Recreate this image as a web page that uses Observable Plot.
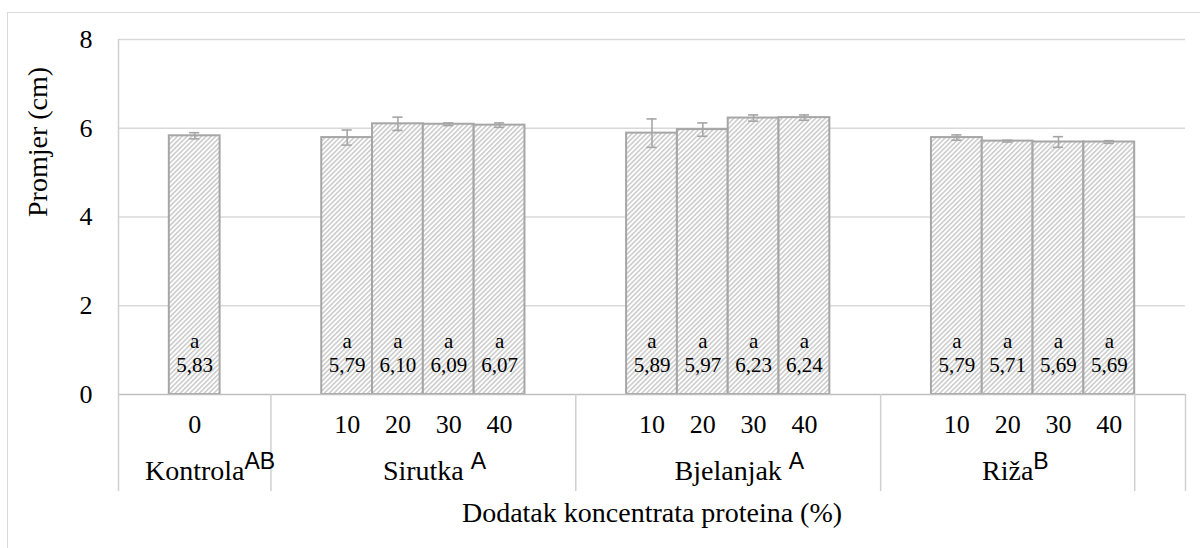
<!DOCTYPE html>
<html><head><meta charset="utf-8">
<script src="https://cdn.jsdelivr.net/npm/d3@7"></script>
<script src="https://cdn.jsdelivr.net/npm/@observablehq/plot@0.6"></script>
<style>
html,body{margin:0;padding:0;background:#fff;overflow:hidden;}
#wrap{position:relative;width:1200px;height:548px;}
#chart{position:absolute;left:0;top:0;}
#frame{position:absolute;left:7px;top:12px;width:1300px;height:700px;border:1.5px solid #d9d9d9;box-sizing:border-box;pointer-events:none;z-index:2;}
</style></head><body>
<div id="wrap"><div id="chart"></div><div id="frame"></div></div>
<script>
// ---- data ----
const groupNames = ["Kontrola", "Sirutka", "Bjelanjak", "Riža"];
const groupLetters = ["AB", "A", "A", "B"];
const groupLetterSpaced = [false, true, true, false];
const doseLabels = [["0"], ["10", "20", "30", "40"], ["10", "20", "30", "40"], ["10", "20", "30", "40"]];
const means = [[5.83], [5.79, 6.10, 6.09, 6.07], [5.89, 5.97, 6.23, 6.24], [5.79, 5.71, 5.69, 5.69]];
const sds = [[0.07], [0.17, 0.15, 0.03, 0.05], [0.32, 0.15, 0.07, 0.06], [0.06, 0.02, 0.12, 0.03]];
const sigLetters = [["a"], ["a", "a", "a", "a"], ["a", "a", "a", "a"], ["a", "a", "a", "a"]];
const valueLabels = [["5,83"], ["5,79", "6,10", "6,09", "6,07"], ["5,89", "5,97", "6,23", "6,24"], ["5,79", "5,71", "5,69", "5,69"]];
const yTicks = [0, 2, 4, 6, 8];
const yTitle = "Promjer (cm)";
const xTitle = "Dodatak koncentrata proteina (%)";

// Excel category layout (blank category slots around each group)
const padBefore = [1, 1, 1, 1];
const padAfter = [1, 1, 1, 0];
const trailingEmptySlots = 1;

// ---- build tables ----
const rows = [];
const groups = [];
let slot = 0;
groupNames.forEach((name, g) => {
  const start = slot;
  slot += padBefore[g];
  doseLabels[g].forEach((dose, i) => {
    rows.push({dose, mean: means[g][i], sd: sds[g][i], letter: sigLetters[g][i], label: valueLabels[g][i],
               x1: slot, x2: slot + 1, xc: slot + 0.5});
    slot += 1;
  });
  slot += padAfter[g];
  groups.push({name, letter: groupLetters[g], spaced: groupLetterSpaced[g], start, end: slot, center: (start + slot) / 2});
});
const totalSlots = slot + trailingEmptySlots;
const boundaries = [...groups.map(g => g.end), totalSlots];

const serif = "'Liberation Serif', 'Times New Roman', serif";
const sans = "'Liberation Sans', Arial, sans-serif";
const groupFont = 28;
const ctx = document.createElement("canvas").getContext("2d");
ctx.font = `${groupFont}px 'Liberation Serif'`;
groups.forEach(g => { g.half = ctx.measureText(g.name).width / 2 + (g.spaced ? ctx.measureText(" ").width : 0); });

const W = 1200, H = 548, mL = 118, mR = 15, mT = 39, mB = 154;
const innerH = H - mT - mB;
const gray = "#a6a6a6";

const plot = Plot.plot({
  width: W, height: H,
  marginLeft: mL, marginRight: mR, marginTop: mT, marginBottom: mB,
  style: `font-family: ${serif}; font-size: 26px; color: #000; background: transparent;`,
  x: {type: "linear", domain: [0, totalSlots], axis: null},
  y: {domain: [0, 8]},
  marks: [
    Plot.ruleY(yTicks.filter(d => d > 0), {stroke: "#d9d9d9", strokeWidth: 1.3}),
    Plot.rect(rows, {x1: "x1", x2: "x2", y1: 0, y2: "mean", fill: "url(#hatch)", stroke: gray, strokeWidth: 2}),
    Plot.ruleX(rows, {x: "xc", y1: d => d.mean - d.sd, y2: d => d.mean + d.sd, stroke: gray, strokeWidth: 1.6}),
    Plot.ruleY(rows, {y: d => d.mean + d.sd, x1: d => d.xc - 0.1, x2: d => d.xc + 0.1, stroke: gray, strokeWidth: 1.6}),
    Plot.ruleY(rows, {y: d => d.mean - d.sd, x1: d => d.xc - 0.1, x2: d => d.xc + 0.1, stroke: gray, strokeWidth: 1.6}),
    Plot.ruleY([0], {stroke: "#bfbfbf", strokeWidth: 1.5}),
    Plot.ruleX([0], {stroke: "#d0d0d0", strokeWidth: 1.5, insetBottom: -97}),
    Plot.ruleX(boundaries, {stroke: "#d0d0d0", strokeWidth: 1.5, insetTop: innerH, insetBottom: -97}),
    Plot.axisY({ticks: yTicks, tickSize: 0, tickPadding: 26, label: null, fontSize: 26, fontFamily: serif, tickFormat: d => String(d)}),
    Plot.text(rows, {x: "xc", text: "letter", frameAnchor: "bottom", dy: -47, fontSize: 21, fontFamily: serif}),
    Plot.text(rows, {x: "xc", text: "label", frameAnchor: "bottom", dy: -23, fontSize: 21, fontFamily: serif}),
    Plot.text(rows, {x: "xc", text: "dose", frameAnchor: "bottom", dy: 38, fontSize: 26, fontFamily: serif}),
    Plot.text(groups, {x: "center", text: "name", frameAnchor: "bottom", dy: 85, fontSize: groupFont, fontFamily: serif}),
    ...groups.map(g => Plot.text([g], {x: "center", text: "letter", frameAnchor: "bottom", dy: 74, dx: g.half,
      textAnchor: "start", fontSize: 23, fontFamily: sans})),
    Plot.text([xTitle], {frameAnchor: "bottom", dy: 127, fontSize: 28, fontFamily: serif}),
    Plot.text([yTitle], {frameAnchor: "left", dx: -80, rotate: -90, fontSize: 28, fontFamily: serif})
  ]
});

const defs = d3.select(plot).insert("defs", ":first-child");
const pat = defs.append("pattern").attr("id", "hatch").attr("patternUnits", "userSpaceOnUse")
  .attr("width", 3.4).attr("height", 3.4).attr("patternTransform", "rotate(45)");
pat.append("rect").attr("width", 3.4).attr("height", 3.4).attr("fill", "#fff");
pat.append("line").attr("x1", 0.8).attr("y1", 0).attr("x2", 0.8).attr("y2", 3.4).attr("stroke", "#c6c6c6").attr("stroke-width", 1.4);

document.getElementById("chart").appendChild(plot);
</script>
</body></html>
